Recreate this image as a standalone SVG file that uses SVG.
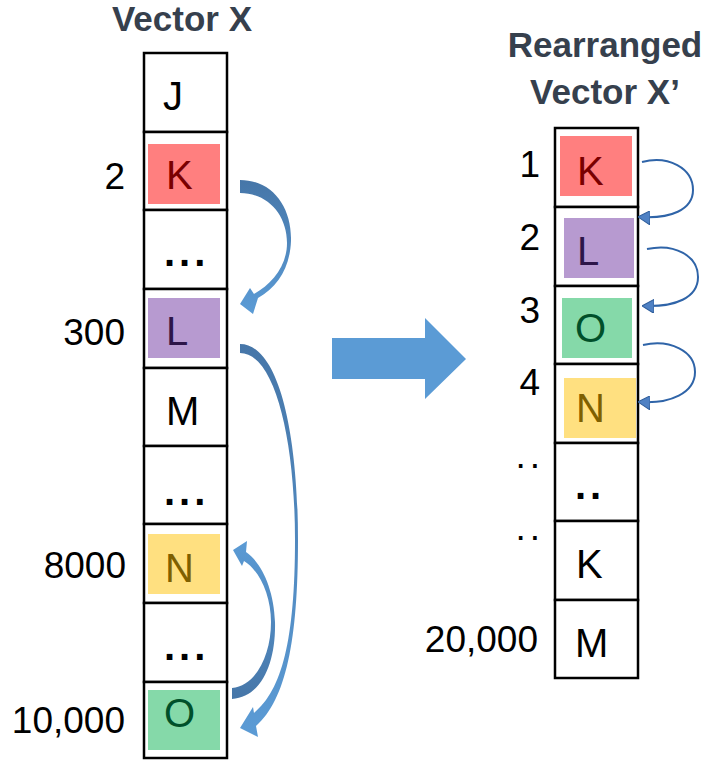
<svg xmlns="http://www.w3.org/2000/svg" width="708" height="761" viewBox="0 0 708 761">
  <style>
    .title { font-family: "Liberation Sans", Arial, sans-serif; font-weight: bold; font-size: 35px; fill: #36404D; text-anchor: middle; }
    .idx { font-family: "Liberation Sans", Arial, sans-serif; font-size: 37px; fill: #000; text-anchor: end; }
    .val { font-family: "Liberation Sans", Arial, sans-serif; font-size: 40px; fill: #000; }
    .cell { fill: #fff; stroke: #000; stroke-width: 2.5; }
    .dots { letter-spacing: 4px; font-variant-ligatures: none; font-weight: bold; }
    .sdots { letter-spacing: 4px; font-variant-ligatures: none; }
    .thin { fill: none; stroke: #2F64A8; stroke-width: 2; marker-end: url(#tri); }
  </style>
  <defs>
    <marker id="tri" viewBox="0 0 12 14" refX="10" refY="7" markerWidth="12" markerHeight="14" markerUnits="userSpaceOnUse" orient="auto">
      <path d="M0,0 L12,7 L0,14 Z" fill="#4F81C4" stroke="#2F5E9C" stroke-width="1"/>
    </marker>
    <linearGradient id="g1" gradientUnits="userSpaceOnUse" x1="0" y1="180" x2="0" y2="312">
      <stop offset="0" stop-color="#4676A8"/>
      <stop offset="1" stop-color="#5B9BD5"/>
    </linearGradient>
    <linearGradient id="g2" gradientUnits="userSpaceOnUse" x1="0" y1="344" x2="0" y2="736">
      <stop offset="0" stop-color="#4676A8"/>
      <stop offset="1" stop-color="#5B9BD5"/>
    </linearGradient>
    <linearGradient id="g3" gradientUnits="userSpaceOnUse" x1="0" y1="699" x2="0" y2="541">
      <stop offset="0" stop-color="#4676A8"/>
      <stop offset="1" stop-color="#5B9BD5"/>
    </linearGradient>
  </defs>

  <!-- titles -->
  <text class="title" x="182" y="31">Vector X</text>
  <text class="title" x="605" y="57">Rearranged</text>
  <text class="title" x="605" y="104">Vector X’</text>

  <!-- left vector -->
  <g id="x-row-1"><rect class="cell" x="144" y="53" width="83" height="79"/><text class="val" x="163" y="110">J</text></g>
  <g id="x-row-2"><rect class="cell" x="144" y="132" width="83" height="78"/><rect x="148" y="144" width="72" height="60" fill="#FF7F7F"/><text class="val" x="166" y="189" style="fill:#7A0000">K</text><text class="idx" x="125" y="189">2</text></g>
  <g id="x-row-3"><rect class="cell" x="144" y="210" width="83" height="79"/><text class="val dots" x="164" y="266">...</text></g>
  <g id="x-row-4"><rect class="cell" x="144" y="289" width="83" height="79"/><rect x="148" y="298" width="72" height="60" fill="#B79AD0"/><text class="val" x="166" y="345" style="fill:#2D1548">L</text><text class="idx" x="125" y="345">300</text></g>
  <g id="x-row-5"><rect class="cell" x="144" y="368" width="83" height="78"/><text class="val" x="166" y="425">M</text></g>
  <g id="x-row-6"><rect class="cell" x="144" y="446" width="83" height="78"/><text class="val dots" x="164" y="505">...</text></g>
  <g id="x-row-7"><rect class="cell" x="144" y="524" width="83" height="79"/><rect x="148" y="534" width="72" height="60" fill="#FFE080"/><text class="val" x="165" y="582" style="fill:#7F6000">N</text><text class="idx" x="126" y="578">8000</text></g>
  <g id="x-row-8"><rect class="cell" x="144" y="603" width="83" height="79"/><text class="val dots" x="164" y="660">...</text></g>
  <g id="x-row-9"><rect class="cell" x="144" y="682" width="83" height="76"/><rect x="148" y="690" width="72" height="60" fill="#85D9A9"/><text class="val" x="164" y="727" style="fill:#00502A">O</text><text class="idx" x="125" y="733">10,000</text></g>

  <!-- right vector -->
  <g id="xp-row-1"><rect class="cell" x="555" y="128" width="83" height="79"/><rect x="560" y="136" width="72" height="60" fill="#FF7F7F"/><text class="val" x="577" y="185" style="fill:#7A0000">K</text><text class="idx" x="540" y="177">1</text></g>
  <g id="xp-row-2"><rect class="cell" x="555" y="207" width="83" height="79"/><rect x="564" y="218" width="70" height="60" fill="#B79AD0"/><text class="val" x="577" y="265" style="fill:#2D1548">L</text><text class="idx" x="540" y="250">2</text></g>
  <g id="xp-row-3"><rect class="cell" x="555" y="286" width="83" height="78"/><rect x="562" y="298" width="70" height="60" fill="#85D9A9"/><text class="val" x="575" y="342" style="fill:#00502A">O</text><text class="idx" x="540" y="323">3</text></g>
  <g id="xp-row-4"><rect class="cell" x="555" y="364" width="83" height="79"/><rect x="564" y="378" width="72" height="60" fill="#FFE080"/><text class="val" x="576" y="422" style="fill:#7F6000">N</text><text class="idx" x="540" y="395">4</text></g>
  <g id="xp-row-5"><rect class="cell" x="555" y="443" width="83" height="78"/><text class="val dots" x="575" y="499">..</text><text class="idx sdots" x="544" y="468">..</text></g>
  <g id="xp-row-6"><rect class="cell" x="555" y="521" width="83" height="79"/><text class="val" x="576" y="578">K</text><text class="idx sdots" x="544" y="540">..</text></g>
  <g id="xp-row-7"><rect class="cell" x="555" y="600" width="83" height="78"/><text class="val" x="575" y="657">M</text><text class="idx" x="538" y="652">20,000</text></g>

  <!-- big transform arrow -->
  <polygon id="transform-arrow" points="332,338 425,338 425,318 466,359 425,399 425,379 332,379" fill="#5B9BD5"/>

  <!-- connectors -->
  <g id="connectors">
    <path id="k-to-l" fill="url(#g1)" d="M240,180 C273,180 292,208 291,241 C290,267 278,287 258,298 L253,314 L240,304 L250,288 L254,294 C272,284 287,266 287,243 C287,215 268,193 240,193 Z"/>
    <path id="l-to-o" fill="url(#g2)" d="M240,344 C278,344 298,430 298,540 C298,640 286,700 256,726 L258,737 L240,728 L253,707 L254,713 C282,690 295,640 295,540 C295,440 275,353 240,353 Z"/>
    <path id="o-to-n" fill="url(#g3)" d="M232,699 C262,697 276,662 275,622 C274,590 262,563 246,552 L247,541 L233,550 L242,566 L244,561 C259,570 271,595 271,622 C271,655 256,686 232,688 Z"/>
    <path class="thin" d="M642,162 C668,155 693,168 693,190 C693,210 670,219 640,217"/>
    <path class="thin" d="M647,249 C675,243 698,256 698,277 C698,298 675,307 644,306"/>
    <path class="thin" d="M643,345 C670,339 695,351 695,372 C695,393 670,404 640,402"/>
  </g>
</svg>
